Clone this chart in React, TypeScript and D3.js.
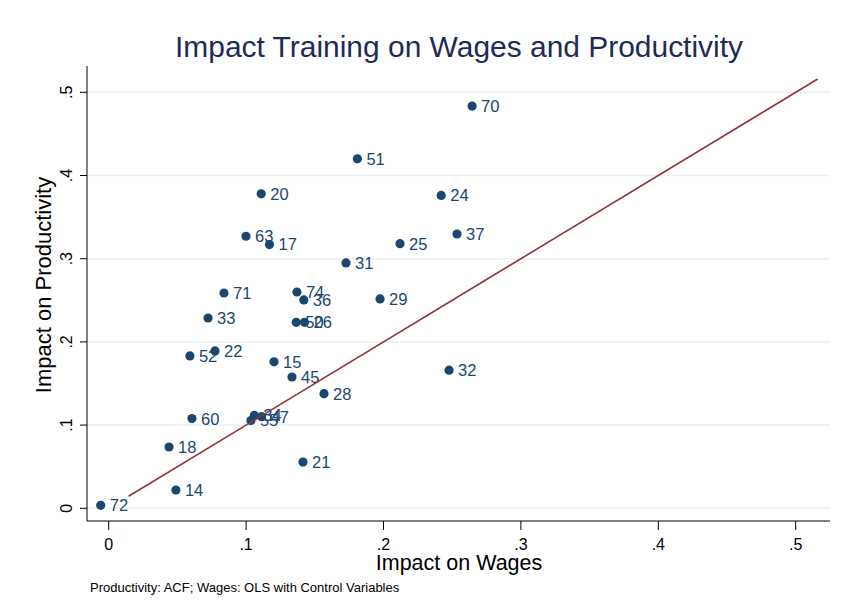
import * as d3 from "d3";

// impact estimates per sector
const sectors = [
  "70", "51", "20", "24", "63", "17", "25", "37", "31", "71",
  "74", "36", "29", "33", "50", "26", "22", "52", "15", "45",
  "32", "28", "60", "34", "47", "55", "18", "14", "21", "72",
];
const wageImpact = [
  0.2645, 0.181, 0.111, 0.242, 0.0999, 0.117, 0.212, 0.2535, 0.1727, 0.0839,
  0.137, 0.142, 0.1975, 0.0723, 0.1365, 0.1425, 0.0774, 0.0591, 0.1203, 0.1334,
  0.2477, 0.1567, 0.0606, 0.1060, 0.1113, 0.1035, 0.0439, 0.0489, 0.1414, -0.0058,
];
const productivityImpact = [
  0.4835, 0.420, 0.378, 0.376, 0.327, 0.317, 0.318, 0.3297, 0.2949, 0.2588,
  0.260, 0.2504, 0.2516, 0.2287, 0.2235, 0.2235, 0.1891, 0.1831, 0.176, 0.1578,
  0.166, 0.1378, 0.1078, 0.1116, 0.1101, 0.1055, 0.0737, 0.022, 0.0556, 0.0036,
];
const xTicks = [0, 0.1, 0.2, 0.3, 0.4, 0.5];
const yTicks = [0, 0.1, 0.2, 0.3, 0.4, 0.5];
const fitRange = [0.0145, 0.516];

const fmt = (v: number) => (v === 0 ? "0" : d3.format(".1f")(v).replace(/^0/, ""));

export default function App() {
  const width = 843;
  const height = 616;
  const plot = { left: 87, right: 830, top: 66, bottom: 521 };

  const x = d3.scaleLinear().domain([0, 0.5]).range([108.7, 795.7]);
  const y = d3.scaleLinear().domain([0, 0.5]).range([508.3, 92.3]);

  const points = sectors.map((s, i) => ({
    label: s,
    wx: wageImpact[i],
    py: productivityImpact[i],
  }));

  const fitLine = d3
    .line<number>()
    .x((v) => x(v))
    .y((v) => y(v))(fitRange);

  const font = "'Liberation Sans', Arial, Helvetica, sans-serif";
  const navy = "#1a476f";

  return (
    <svg
      width={width}
      height={height}
      style={{ position: "absolute", left: 0, top: 0, background: "#fff" }}
      fontFamily={font}
    >
      <text
        x={459}
        y={57}
        textAnchor="middle"
        fontSize={30}
        fill="#1e2b56"
        textLength={568}
        lengthAdjust="spacingAndGlyphs"
      >
        Impact Training on Wages and Productivity
      </text>

      {/* gridlines */}
      {yTicks.map((t) => (
        <line
          key={`g${t}`}
          x1={plot.left}
          x2={plot.right}
          y1={y(t)}
          y2={y(t)}
          stroke="#e8f0f2"
          strokeWidth={1.5}
        />
      ))}

      {/* axes */}
      <line x1={plot.left} x2={plot.left} y1={plot.top} y2={plot.bottom} stroke="#000" />
      <line x1={plot.left} x2={plot.right} y1={plot.bottom} y2={plot.bottom} stroke="#000" />

      {yTicks.map((t) => (
        <g key={`y${t}`}>
          <line x1={plot.left - 7} x2={plot.left} y1={y(t)} y2={y(t)} stroke="#000" />
          <text
            transform={`translate(${72},${y(t)}) rotate(-90)`}
            textAnchor="middle"
            fontSize={16}
            fill="#000"
          >
            {fmt(t)}
          </text>
        </g>
      ))}

      {xTicks.map((t) => (
        <g key={`x${t}`}>
          <line x1={x(t)} x2={x(t)} y1={plot.bottom} y2={plot.bottom + 9} stroke="#000" />
          <text x={x(t)} y={550} textAnchor="middle" fontSize={16} fill="#000">
            {fmt(t)}
          </text>
        </g>
      ))}

      <text x={459} y={570} textAnchor="middle" fontSize={21.5} fill="#000">
        Impact on Wages
      </text>
      <text
        transform={`translate(${51},${285}) rotate(-90)`}
        textAnchor="middle"
        fontSize={22}
        fill="#000"
      >
        Impact on Productivity
      </text>

      {/* scatter with marker labels */}
      {points.map((d) => (
        <g key={d.label}>
          <circle cx={x(d.wx)} cy={y(d.py)} r={4.6} fill={navy} />
          <text
            x={x(d.wx) + 9}
            y={y(d.py)}
            dy="0.36em"
            fontSize={16.5}
            fill={navy}
          >
            {d.label}
          </text>
        </g>
      ))}

      <path d={fitLine ?? ""} fill="none" stroke="#90353b" strokeWidth={1.6} />

      <text x={90} y={592} fontSize={13} fill="#000">
        Productivity: ACF; Wages: OLS with Control Variables
      </text>
    </svg>
  );
}
